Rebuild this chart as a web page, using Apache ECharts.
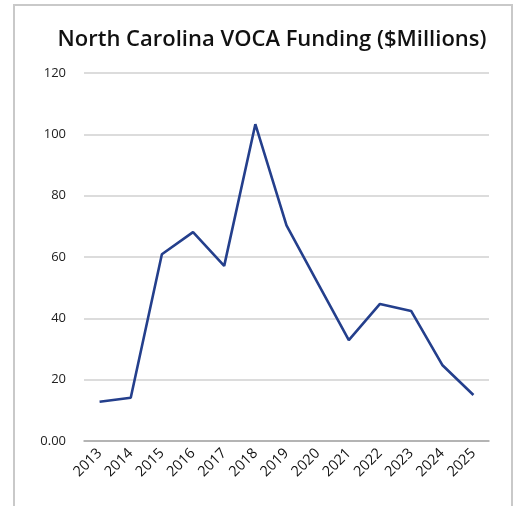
<!DOCTYPE html>
<html>
<head>
<meta charset="utf-8">
<script src="https://cdn.jsdelivr.net/npm/echarts@6/dist/echarts.min.js"></script>
<style>
html,body{margin:0;padding:0;background:#fff;}
#frame{position:absolute;left:13px;top:4px;width:500px;height:510px;border:2px solid #c9c9c9;box-sizing:border-box;}
#chart{position:absolute;left:0;top:0;width:517px;height:506px;}
</style>
</head>
<body>
<div id="frame"></div>
<div id="chart"></div>
<script>
const title = 'North Carolina VOCA Funding ($Millions)';
const years = ['2013','2014','2015','2016','2017','2018','2019','2020','2021','2022','2023','2024','2025'];
const funding = [12.8, 14.1, 60.9, 68.1, 57.1, 103.3, 70.3, 51.6, 32.9, 44.7, 42.4, 24.8, 15.0];
const yTicks = [0, 20, 40, 60, 80, 100, 120];

const chart = echarts.init(document.getElementById('chart'), null, {renderer:'canvas'});
chart.setOption({
  backgroundColor: 'transparent',
  animation: false,
  title: {
    text: title,
    left: 267, textAlign: 'center', top: 24,
    textStyle: {fontFamily: '"Open Sans", sans-serif', fontSize: 22, fontWeight: 600, color: '#111'}
  },
  grid: {left: 84, right: 28, top: 73, bottom: 65},
  xAxis: {
    type: 'category',
    data: years,
    boundaryGap: true,
    axisLine: {show: true, lineStyle: {color: '#a6a6a6', width: 1.5}},
    axisTick: {show: false},
    axisLabel: {rotate: 45, margin: 10, interval: 0, fontFamily: '"Open Sans", sans-serif', fontSize: 14.5, color: '#111'}
  },
  yAxis: {
    type: 'value',
    min: yTicks[0], max: yTicks[yTicks.length-1], interval: 20,
    axisLine: {show: false},
    axisTick: {show: false},
    splitLine: {lineStyle: {color: '#d0d0d0', width: 1.5}},
    axisLabel: {
      margin: 18, fontFamily: '"Open Sans", sans-serif', fontSize: 13, color: '#222',
      formatter: v => v === 0 ? '0.00' : String(v)
    }
  },
  series: [{
    type: 'line',
    data: funding,
    symbol: 'none',
    lineStyle: {color: '#243f8c', width: 2.6},
    itemStyle: {color: '#243f8c'}
  }]
});
</script>
</body>
</html>
